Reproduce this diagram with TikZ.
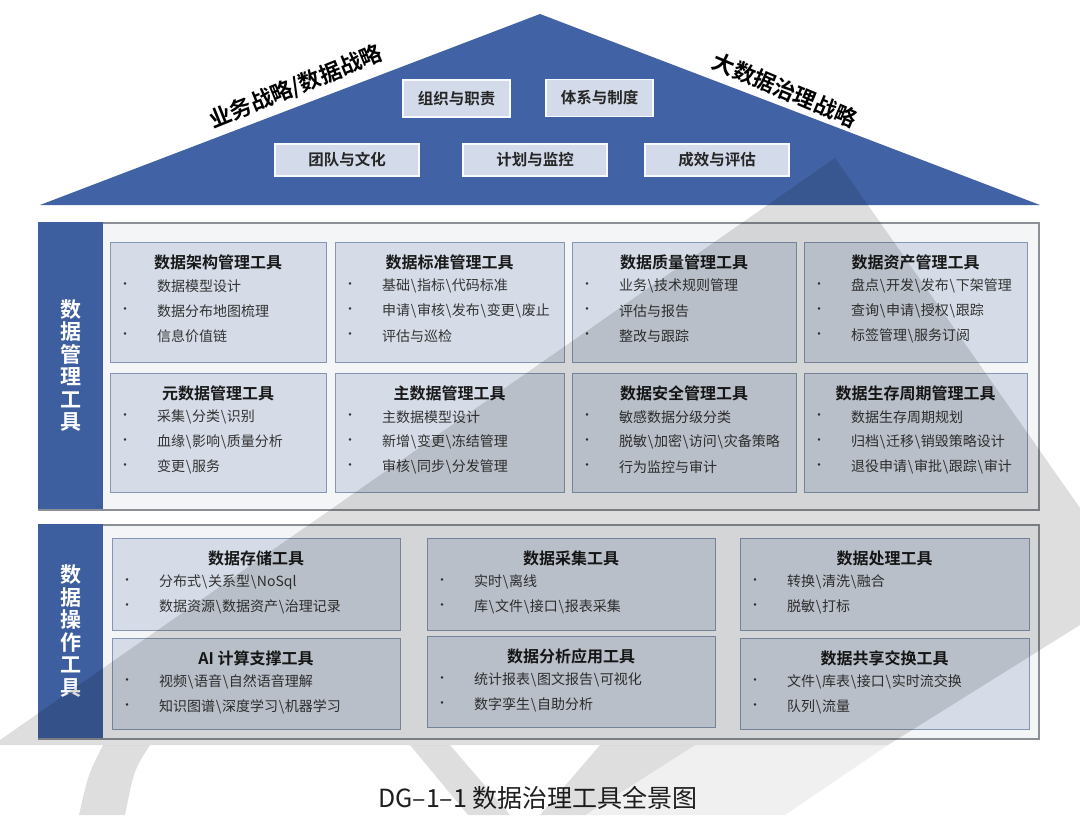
\documentclass[tikz,border=0pt]{standalone}
\usepackage{fontspec}
\setmainfont{Noto Sans CJK SC}[BoldFont={Noto Sans CJK SC Bold}]
\usetikzlibrary{calc}
\definecolor{roofblue}{HTML}{4163A5}
\definecolor{barblue}{HTML}{3D5E9F}
\definecolor{cellfill}{HTML}{D5DCE7}
\definecolor{celledge}{HTML}{8696B2}
\definecolor{rooffill}{HTML}{D3DBEA}
\definecolor{framefill}{HTML}{F4F5F7}
\definecolor{frameedge}{HTML}{8C9096}
\definecolor{itemcol}{HTML}{333333}

\newcommand{\bsl}{\kern0.05em\textbackslash\kern0.05em}
% one tool box: name, left, top, width, height, title, items
\newcommand{\toolbox}[7]{%
  \node[cell,minimum width=#4,minimum height=#5] (#1) at (#2,#3) {};
  \node[celltitle] (#1-t) at ($(#1.north)+(0,20)$) {#6};
  \foreach \txt [count=\i] in {#7}{%
    \node[celldot] (#1-d\i) at ($(#1.north west)+(15,19+25*\i)$) {·};
    \node[cellitem] (#1-i\i) at ($(#1.north west)+(47,19+25*\i)$) {\txt};
  }%
}

\begin{document}
\begin{tikzpicture}[x=1pt,y=-1pt,
  cell/.style={fill=cellfill,draw=celledge,line width=1,anchor=north west,inner sep=0,outer sep=0},
  celltitle/.style={font=\bfseries\fontsize{16}{18}\selectfont,text=black!90},
  celldot/.style={font=\fontsize{12}{14}\selectfont,text=itemcol},
  cellitem/.style={anchor=west,inner sep=0,font=\fontsize{14}{16}\selectfont,text=itemcol},
  roofcell/.style={fill=rooffill,draw=white!85!rooffill,line width=1.2,inner sep=0,
    font=\bfseries\fontsize{15.5}{18}\selectfont,text=black!85},
  rooflabel/.style={inner sep=0,font=\bfseries\fontsize{22}{24}\selectfont,text=black},
  frame/.style={fill=framefill,draw=frameedge,line width=1.6,anchor=north west,inner sep=0},
  sidebar/.style={fill=barblue,anchor=north west,minimum width=65,inner sep=0},
  sidetext/.style={align=center,text=white,font=\bfseries\fontsize{21}{22.5}\selectfont},
  wmark/.style={fill=black,fill opacity=0.13}]
\useasboundingbox (0,0) rectangle (1080,815);
\fill[white] (0,0) rectangle (1080,815);

% roof
\fill[roofblue] (40,205) -- (540,14) -- (1040,205) -- cycle;
\node[roofcell,minimum width=107,minimum height=37] (org) at (456.5,98.5) {组织与职责};
\node[roofcell,minimum width=107,minimum height=37] (sys) at (599.5,98) {体系与制度};
\node[roofcell,minimum width=144,minimum height=32] (team) at (347,160) {团队与文化};
\node[roofcell,minimum width=144,minimum height=32] (plan) at (535,160) {计划与监控};
\node[roofcell,minimum width=144,minimum height=32] (perf) at (717,160) {成效与评估};
\node[rooflabel,rotate=22] (bizlabel) at (296,87) {业务战略/数据战略};
\node[rooflabel,rotate=-23] (biglabel) at (785,90) {大数据治理战略};

% data management tools
\node[frame,minimum width=1000,minimum height=287] (mgmt) at (38,222) {};
\node[sidebar,minimum height=287] (mgmtbar) at (38,222) {};
\node[sidetext] (mgmtname) at (mgmtbar.center) {数\\据\\管\\理\\工\\具};
\toolbox{arch}{110}{242}{216}{120}{数据架构管理工具}{数据模型设计,数据分布地图梳理,信息价值链}
\toolbox{std}{335}{242}{229}{120}{数据标准管理工具}{基础\bsl 指标\bsl 代码标准,申请\bsl 审核\bsl 发布\bsl 变更\bsl 废止,评估与巡检}
\toolbox{qual}{572}{242}{224}{120}{数据质量管理工具}{业务\bsl 技术规则管理,评估与报告,整改与跟踪}
\toolbox{asset}{804}{242}{223}{120}{数据资产管理工具}{盘点\bsl 开发\bsl 发布\bsl 下架管理,查询\bsl 申请\bsl 授权\bsl 跟踪,标签管理\bsl 服务订阅}
\toolbox{meta}{110}{373}{216}{119}{元数据管理工具}{采集\bsl 分类\bsl 识别,血缘\bsl 影响\bsl 质量分析,变更\bsl 服务}
\toolbox{master}{335}{373}{229}{119}{主数据管理工具}{主数据模型设计,新增\bsl 变更\bsl 冻结管理,审核\bsl 同步\bsl 分发管理}
\toolbox{sec}{572}{373}{224}{119}{数据安全管理工具}{敏感数据分级分类,脱敏\bsl 加密\bsl 访问\bsl 灾备策略,行为监控与审计}
\toolbox{life}{804}{373}{223}{119}{数据生存周期管理工具}{数据生存周期规划,归档\bsl 迁移\bsl 销毁策略设计,退役申请\bsl 审批\bsl 跟踪\bsl 审计}

% data operation tools
\node[frame,minimum width=1000,minimum height=214] (ops) at (38,524) {};
\node[sidebar,minimum height=214] (opsbar) at (38,524) {};
\node[sidetext] (opsname) at (opsbar.center) {数\\据\\操\\作\\工\\具};
\toolbox{store}{112}{538}{288}{92}{数据存储工具}{分布式\bsl 关系型\bsl NoSql,数据资源\bsl 数据资产\bsl 治理记录}
\toolbox{collect}{427}{538}{288}{92}{数据采集工具}{实时\bsl 离线,库\bsl 文件\bsl 接口\bsl 报表采集}
\toolbox{proc}{740}{538}{289}{92}{数据处理工具}{转换\bsl 清洗\bsl 融合,脱敏\bsl 打标}
\toolbox{ai}{112}{638}{288}{91}{AI 计算支撑工具}{视频\bsl 语音\bsl 自然语音理解,知识图谱\bsl 深度学习\bsl 机器学习}
\toolbox{ana}{427}{636}{288}{91}{数据分析应用工具}{统计报表\bsl 图文报告\bsl 可视化,数字孪生\bsl 自助分析}
\toolbox{share}{740}{638}{289}{91}{数据共享交换工具}{文件\bsl 库表\bsl 接口\bsl 实时流交换,队列\bsl 流量}

\node[font=\fontsize{25}{28}\selectfont,text=black!88] (caption) at (538,798) {DG–1–1 数据治理工具全景图};

% grey watermark
\begin{scope}
\clip (0,0) rectangle (1080,815);
\fill[wmark] (835,158) -- (1080,508) -- (1080,625) -- (888,745) -- (0,745) -- (0,740) -- cycle;
\fill[wmark,fill opacity=0.06] (695,745) -- (888,745) -- (785,815) -- (585,815) -- cycle;
\fill[wmark] (600,745) -- (695,745) -- (585,815) -- (540,815) -- cycle;
\fill[wmark] (410,745) -- (450,745) -- (510,815) -- (468,815) -- cycle;
\fill[wmark] (103,745) -- (150,745) .. controls (134,770) .. (125,815) -- (79,815) .. controls (88,775) .. cycle;
\end{scope}
\end{tikzpicture}
\end{document}
